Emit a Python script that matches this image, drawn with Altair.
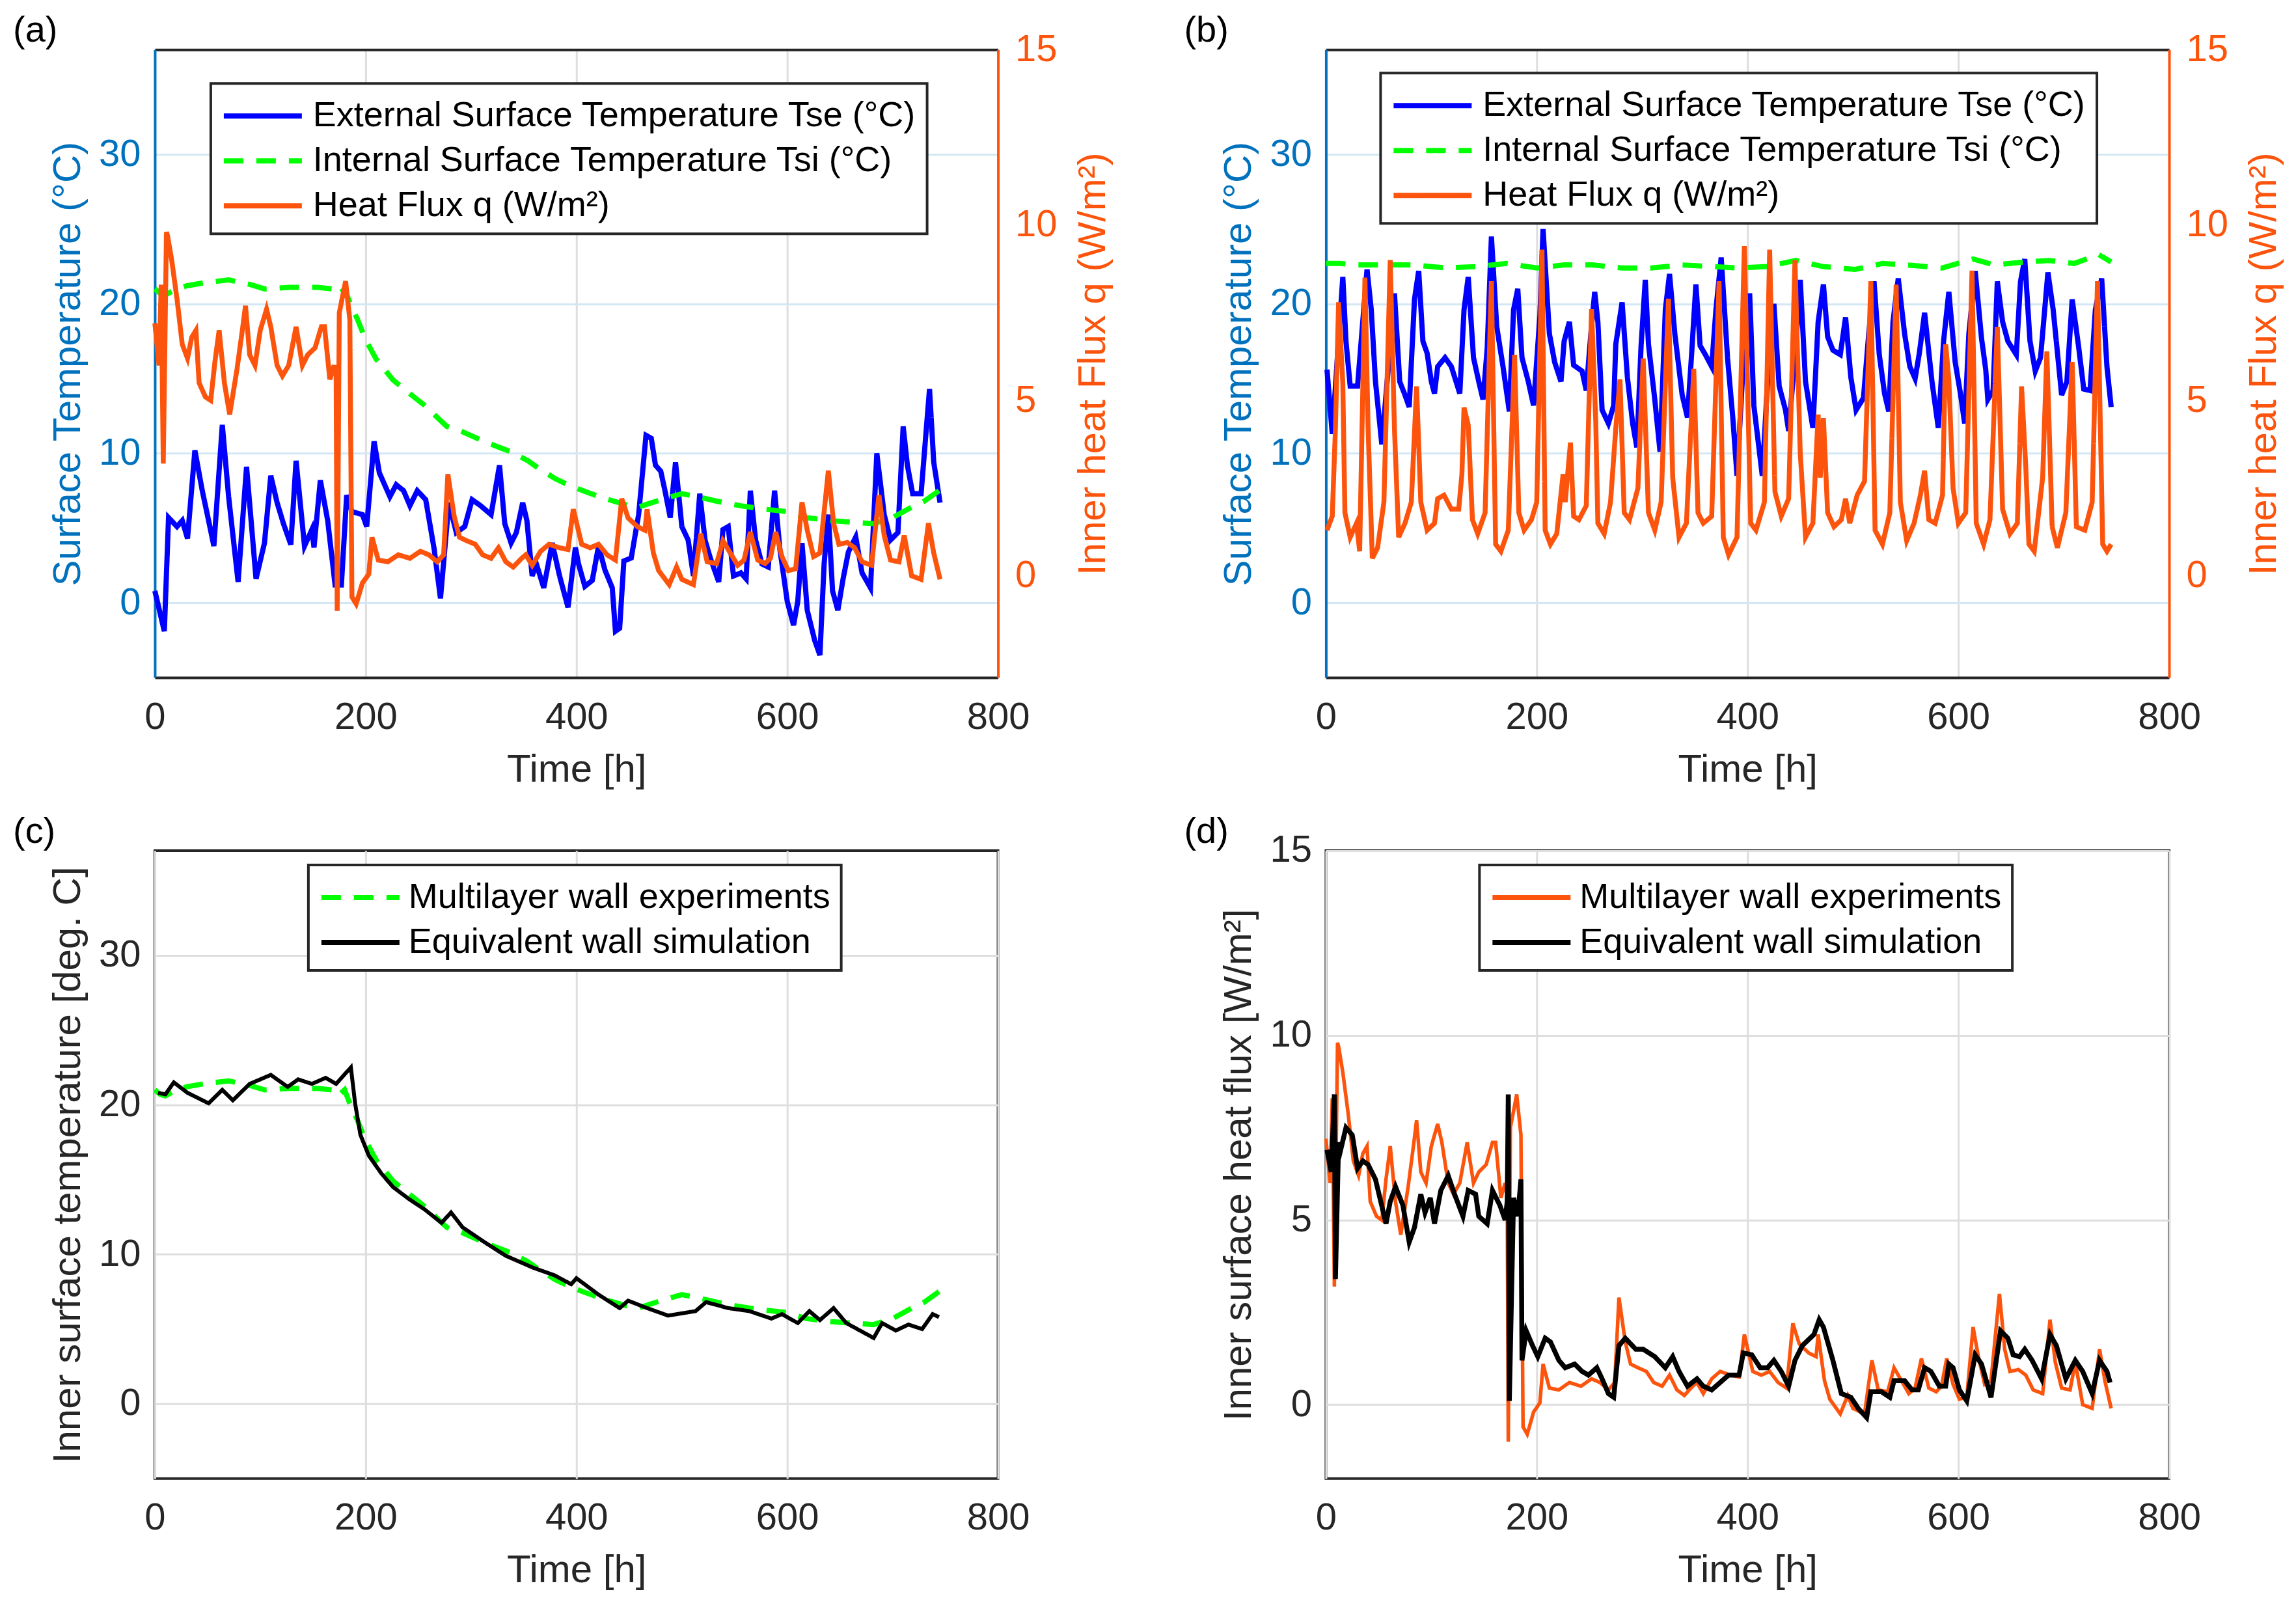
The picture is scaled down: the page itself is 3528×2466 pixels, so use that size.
import pandas as pd
import altair as alt

FONT = "Liberation Sans"
BLUE = "#0000FF"
GREEN = "#00FF00"
ORANGE = "#FC540C"
AX_BLUE = "#0072BD"
DARK = "#262626"
GRID = "#DEDEDE"
GRID_BLUE = "#D3E7F4"

# ---- (a) / (c) / (d) experiment: multilayer wall ----
tse_a_hours = [0, 9, 13, 21, 26, 31, 38, 45, 51, 56, 64, 70, 79, 87, 96, 104, 110, 116,
               122, 129, 134, 142, 149, 151, 157, 164, 171, 177, 182, 187, 197, 201, 208,
               213, 223, 229, 236, 242, 249, 257, 265, 271, 279, 286, 294, 301, 309, 319,
               327, 332, 338, 343, 349, 353, 358, 362, 369, 377, 384, 392, 399, 402, 408,
               415, 421, 427, 434, 437, 441, 445, 452, 459, 466, 471, 475, 480, 484, 489,
               494, 500, 506, 511, 517, 522, 527, 535, 539, 544, 549, 556, 561, 565, 570,
               576, 582, 588, 593, 600, 606, 610, 614, 619, 626, 631, 635, 639, 643, 648,
               653, 658, 665, 671, 679, 685, 692, 698, 705, 710, 714, 719, 727, 735, 739, 745]
tse_a_temp = [0.8, -1.9, 5.7, 5.1, 5.5, 4.3, 10.2, 7.5, 5.5, 3.8, 11.9, 7.1, 1.4, 9.1, 1.6,
              4.0, 8.5, 6.7, 5.3, 3.9, 9.5, 3.8, 4.9, 3.7, 8.2, 5.5, 1.2, 1.2, 7.2, 6.1, 5.9,
              5.1, 10.8, 8.7, 7.1, 7.9, 7.5, 6.5, 7.5, 6.9, 3.6, 0.3, 6.7, 4.7, 5.1, 6.9,
              6.5, 5.9, 9.2, 5.3, 4.0, 4.7, 6.7, 5.5, 1.8, 2.6, 1.0, 4.0, 1.8, -0.3, 3.7,
              2.6, 1.1, 1.5, 3.8, 2.2, 1.0, -1.9, -1.7, 2.8, 3.0, 5.9, 11.2, 11.0, 9.2, 8.8,
              7.5, 5.7, 9.4, 5.1, 4.2, 1.8, 7.3, 4.2, 3.0, 1.4, 4.9, 5.1, 1.8, 2.0, 1.6, 7.5,
              4.2, 2.6, 2.4, 7.5, 3.6, 0.1, -1.5, 0.1, 4.0, -0.5, -2.5, -3.5, 2.6, 5.9, 0.8,
              -0.5, 1.6, 3.4, 4.4, 2.0, 1.0, 10.0, 5.9, 4.2, 4.7, 11.8, 9.2, 7.3, 7.3, 14.3,
              9.4, 6.7]

tsi_a_hours = [0, 5, 10, 18, 30, 46, 70, 90, 104, 128, 154, 168, 174, 180, 186, 192, 200,
               210, 226, 256, 277, 290, 309, 323, 338, 354, 364, 380, 395, 410, 426, 445,
               459, 467, 485, 500, 515, 533, 555, 574, 600, 618, 641, 660, 682, 700, 718,
               730, 744]
tsi_a_temp = [21.0, 20.7, 20.6, 20.9, 21.2, 21.4, 21.6, 21.3, 21.0, 21.1, 21.1, 21.0, 20.6,
              21.0, 19.9, 19.0, 17.6, 16.3, 14.9, 13.2, 11.8, 11.5, 10.9, 10.5, 10.1, 9.5,
              9.0, 8.3, 7.8, 7.4, 7.0, 6.6, 6.4, 6.6, 7.0, 7.3, 7.1, 6.8, 6.5, 6.3, 6.1,
              5.7, 5.5, 5.4, 5.3, 5.7, 6.4, 6.8, 7.5]

q_exp_hours = [0, 4, 6, 8, 11, 12, 16, 21, 26, 31, 35, 39, 42, 48, 53, 57, 61, 66, 71, 78,
               83, 86, 90, 95, 100, 106, 110, 116, 121, 127, 134, 140, 145, 152, 158, 161,
               166, 170, 172, 173, 175, 181, 185, 187, 191, 197, 203, 206, 212, 221, 231,
               242, 252, 260, 268, 274, 278, 284, 289, 296, 304, 311, 319, 326, 333, 340,
               348, 352, 358, 366, 374, 384, 392, 397, 405, 413, 421, 429, 437, 443, 449,
               458, 465, 467, 473, 478, 488, 495, 500, 511, 518, 524, 533, 539, 546, 553,
               559, 565, 572, 579, 584, 589, 595, 601, 608, 614, 619, 625, 631, 639, 644,
               649, 657, 664, 671, 680, 687, 692, 698, 706, 711, 718, 727, 734, 739, 745]
q_exp_flux = [7.2, 6.0, 8.3, 3.2, 9.8, 9.7, 9.0, 7.9, 6.6, 6.2, 6.8, 7.0, 5.5, 5.1, 5.0,
              6.1, 7.0, 5.5, 4.6, 5.9, 7.0, 7.7, 6.3, 6.0, 7.0, 7.6, 7.1, 6.0, 5.7, 6.0, 7.1,
              6.0, 6.3, 6.5, 7.1, 7.1, 5.6, 6.0, 5.7, -1.0, 7.5, 8.4, 7.3, -0.6, -0.8, -0.2,
              0.05, 1.1, 0.45, 0.4, 0.6, 0.5, 0.7, 0.6, 0.4, 0.6, 2.9, 1.7, 1.1, 1.0, 0.9,
              0.6, 0.5, 0.8, 0.4, 0.25, 0.5, 0.6, 0.3, 0.7, 0.9, 0.8, 0.75, 1.9, 0.9, 0.8,
              0.9, 0.6, 0.45, 2.2, 1.65, 1.4, 1.3, 1.9, 0.65, 0.15, -0.25, 0.25, -0.1, -0.25,
              1.2, 0.4, 0.35, 1.0, 0.65, 0.3, 0.45, 1.25, 0.45, 0.35, 0.5, 1.25, 0.55, 0.15,
              0.2, 2.1, 1.3, 0.55, 0.65, 3.0, 1.5, 0.9, 0.95, 0.8, 0.4, 0.3, 2.3, 1.15, 0.45,
              0.4, 1.15, 0.0, -0.1, 1.5, 0.65, -0.1]

# ---- (b) experiment ----
tse_b_hours = [1, 6, 16, 19, 23, 30, 34, 39, 43, 47, 53, 60, 65, 70, 75, 79, 84, 88, 92, 96,
               100, 103, 106, 113, 119, 127, 131, 135, 140, 145, 149, 153, 157, 162, 168,
               174, 178, 182, 186, 192, 197, 203, 206, 212, 217, 223, 226, 231, 235, 243,
               247, 251, 255, 258, 262, 268, 273, 275, 281, 286, 291, 295, 299, 303, 306,
               312, 317, 322, 326, 331, 338, 343, 347, 351, 355, 360, 366, 370, 375, 381,
               386, 390, 395, 402, 406, 414, 419, 425, 430, 436, 439, 445, 450, 455, 462,
               467, 472, 476, 481, 488, 493, 498, 503, 510, 515, 520, 525, 530, 534, 538,
               543, 549, 554, 559, 563, 568, 575, 581, 586, 591, 597, 602, 606, 610, 616,
               622, 626, 628, 633, 637, 642, 647, 655, 659, 663, 668, 673, 678, 685, 690,
               698, 703, 708, 714, 719, 725, 730, 736, 741, 745]
tse_b_temp = [15.6, 11.3, 21.8, 17.5, 14.5, 14.5, 18.0, 22.3, 19.6, 14.8, 10.6, 16.4, 20.7,
              14.8, 13.9, 13.1, 20.3, 22.2, 17.5, 16.7, 14.8, 14.0, 15.8, 16.4, 15.8, 14.0,
              19.6, 21.8, 16.4, 14.8, 13.6, 17.0, 24.5, 18.5, 15.8, 12.8, 19.6, 21.0, 16.4,
              14.8, 13.2, 19.2, 25.0, 18.0, 16.1, 14.8, 17.5, 18.8, 15.9, 15.5, 14.2, 17.7,
              20.8, 18.8, 12.9, 12.0, 13.2, 17.3, 20.1, 15.1, 12.0, 10.4, 17.2, 21.6, 17.3,
              13.6, 10.1, 19.6, 22.0, 18.0, 13.9, 12.4, 16.7, 21.3, 17.2, 16.6, 15.8, 19.6,
              23.1, 16.4, 12.4, 8.5, 14.8, 20.7, 13.2, 8.5, 14.8, 20.0, 14.5, 12.9, 11.5,
              16.4, 21.6, 14.8, 11.7, 18.8, 21.3, 17.8, 16.9, 16.6, 19.1, 15.1, 12.9, 13.7,
              18.0, 21.5, 16.6, 14.0, 12.8, 18.8, 21.7, 18.0, 15.8, 15.0, 16.7, 19.4, 14.8,
              11.7, 17.5, 20.8, 16.1, 14.0, 12.0, 18.0, 22.2, 17.7, 15.6, 13.6, 14.2, 21.5,
              18.8, 17.5, 16.6, 21.5, 23.0, 17.5, 15.5, 16.4, 22.1, 19.6, 13.9, 14.8, 20.3,
              17.2, 14.3, 14.2, 19.6, 21.7, 15.8, 13.1]

tsi_b_hours = [0, 13, 30, 52, 82, 114, 145, 171, 200, 226, 253, 281, 309, 338, 366, 390,
               419, 446, 471, 502, 528, 551, 585, 614, 634, 663, 686, 710, 733, 745]
tsi_b_temp = [22.7, 22.7, 22.6, 22.6, 22.6, 22.4, 22.5, 22.7, 22.4, 22.6, 22.6, 22.4, 22.4,
              22.6, 22.5, 22.4, 22.5, 22.9, 22.5, 22.3, 22.7, 22.6, 22.4, 23.0, 22.6, 22.8,
              22.9, 22.7, 23.3, 22.8]

q_b_hours = [1, 6, 9, 12, 16, 18, 23, 29, 32, 37, 40, 44, 49, 55, 61, 65, 69, 75, 81, 86,
             90, 96, 103, 106, 112, 119, 126, 129, 131, 135, 139, 144, 151, 157, 161, 166,
             173, 179, 183, 188, 195, 200, 205, 208, 213, 219, 225, 227, 232, 235, 240, 247,
             252, 256, 258, 264, 270, 275, 279, 283, 288, 296, 301, 306, 312, 318, 325, 329,
             335, 342, 349, 353, 358, 366, 373, 377, 382, 390, 397, 403, 408, 416, 421, 426,
             432, 439, 445, 450, 455, 462, 467, 469, 472, 476, 482, 489, 493, 497, 504, 511,
             517, 521, 528, 535, 541, 545, 551, 558, 564, 568, 572, 578, 585, 588, 591, 595,
             600, 607, 613, 617, 624, 630, 637, 642, 649, 656, 660, 664, 667, 672, 680, 684,
             689, 694, 702, 708, 712, 720, 727, 732, 737, 741, 745]
q_b_flux = [1.3, 1.7, 4.2, 7.8, 5.5, 1.8, 1.1, 1.5, 0.7, 8.5, 4.2, 0.5, 0.8, 2.1, 9.0, 4.2,
            1.1, 1.5, 2.1, 5.4, 2.1, 1.3, 1.5, 2.2, 2.3, 1.9, 1.9, 2.9, 4.8, 4.3, 1.6, 1.2,
            1.8, 8.4, 0.9, 0.7, 1.3, 6.3, 1.8, 1.3, 1.6, 2.1, 9.3, 1.3, 0.9, 1.2, 2.9, 2.1,
            3.8, 1.7, 1.6, 2.0, 7.6, 4.4, 1.5, 1.2, 2.1, 4.2, 5.6, 1.8, 1.6, 2.5, 6.2, 1.8,
            1.3, 2.1, 7.9, 2.8, 1.1, 1.5, 5.9, 1.8, 1.5, 1.7, 8.4, 1.1, 0.6, 1.1, 9.4, 1.5,
            1.3, 2.1, 9.3, 2.4, 1.7, 2.2, 9.0, 3.5, 1.1, 1.5, 4.6, 2.8, 4.5, 1.8, 1.4, 1.6,
            2.2, 1.5, 2.3, 2.7, 8.4, 1.3, 0.9, 1.8, 8.3, 2.1, 1.0, 1.5, 2.3, 3.0, 1.6, 1.5,
            2.3, 6.6, 5.6, 2.5, 1.5, 1.8, 8.7, 1.5, 0.9, 1.6, 7.1, 1.9, 1.2, 1.5, 5.4, 3.1,
            0.9, 0.7, 2.8, 6.4, 1.4, 0.8, 1.8, 6.1, 1.4, 1.3, 2.1, 8.4, 0.9, 0.7, 0.9]

# ---- (c) equivalent wall simulation: inner surface temperature ----
tsim_hours = [3, 10, 18, 31, 51, 64, 74, 90, 110, 126, 136, 149, 162, 172, 186, 190, 195,
              203, 215, 226, 241, 256, 272, 281, 292, 313, 333, 359, 379, 395, 400, 421,
              441, 449, 467, 487, 513, 523, 544, 564, 585, 595, 610, 621, 631, 644, 656,
              682, 690, 703, 715, 728, 738, 744]
tsim_temp = [20.8, 20.7, 21.5, 20.8, 20.1, 21.0, 20.3, 21.4, 22.0, 21.2, 21.7, 21.4, 21.8,
             21.4, 22.5, 20.1, 18.0, 16.6, 15.4, 14.5, 13.7, 13.0, 12.1, 12.8, 11.8, 10.8,
             9.9, 9.1, 8.6, 8.0, 8.4, 7.3, 6.4, 6.9, 6.4, 5.9, 6.2, 6.8, 6.4, 6.2, 5.7, 6.0,
             5.4, 6.2, 5.6, 6.4, 5.4, 4.4, 5.4, 4.9, 5.3, 5.0, 6.0, 5.8]

# ---- (d) equivalent wall simulation: inner surface heat flux ----
qsim_hours = [1, 5, 8, 9, 12, 14, 19, 25, 30, 35, 40, 47, 52, 57, 61, 66, 73, 79, 84, 90,
              94, 99, 103, 109, 116, 122, 130, 135, 142, 145, 153, 158, 165, 170, 172, 173,
              174, 178, 182, 185, 186, 190, 196, 201, 208, 213, 221, 227, 236, 243, 249,
              257, 262, 268, 273, 278, 284, 294, 301, 312, 322, 329, 335, 343, 352, 358,
              366, 374, 382, 392, 396, 404, 412, 419, 425, 432, 439, 445, 452, 463, 468,
              472, 481, 489, 498, 505, 513, 517, 527, 535, 539, 549, 556, 562, 568, 574,
              582, 588, 591, 595, 601, 608, 616, 622, 631, 640, 647, 652, 658, 663, 670,
              679, 687, 693, 702, 711, 718, 727, 734, 741, 744]
qsim_flux = [6.9, 6.3, 8.4, 3.4, 7.1, 6.9, 7.5, 7.3, 6.4, 6.6, 6.5, 6.1, 5.5, 4.9, 5.5, 5.9,
             5.4, 4.4, 4.8, 5.7, 5.2, 5.6, 4.9, 5.8, 6.2, 5.7, 5.1, 5.8, 5.7, 5.1, 4.9, 5.8,
             5.4, 5.0, 5.5, 8.4, 0.1, 5.6, 5.1, 6.1, 1.2, 2.0, 1.6, 1.3, 1.8, 1.7, 1.2, 1.0,
             1.1, 0.9, 0.8, 1.0, 0.7, 0.3, 0.2, 1.6, 1.8, 1.5, 1.5, 1.3, 1.0, 1.3, 0.9, 0.5,
             0.7, 0.5, 0.4, 0.6, 0.8, 0.8, 1.4, 1.35, 1.0, 1.0, 1.2, 0.9, 0.5, 1.2, 1.6,
             1.9, 2.3, 2.1, 1.2, 0.3, 0.2, -0.1, -0.35, 0.35, 0.35, 0.2, 0.65, 0.65, 0.4,
             0.4, 1.0, 0.9, 0.5, 0.5, 1.1, 1.0, 0.4, 0.1, 1.35, 1.1, 0.2, 2.0, 1.8, 1.35,
             1.3, 1.5, 1.2, 0.7, 1.9, 1.6, 0.7, 1.2, 0.9, 0.3, 1.2, 0.9, 0.6]

hours_ticks = [0, 200, 400, 600, 800]
temp_ticks = [0, 10, 20, 30]
flux_ticks = [0, 5, 10, 15]

W, H = 1296, 965
TICK_SIZE, TITLE_SIZE, LEGEND_SIZE = 58, 60, 54


def frame(hours, values, name):
    return pd.DataFrame({"h": hours, "v": values, "series": name})


def make_legend(x, y, label_offset):
    # symbol drawn as a long line to the right of its anchor (path scaled by sqrt(size)/2)
    return alt.Legend(orient="none", legendX=x, legendY=y, title=None,
                      strokeColor=DARK, fillColor="white", padding=16,
                      labelFontSize=LEGEND_SIZE, labelColor="black", labelLimit=3000,
                      labelOffset=label_offset, rowPadding=8, symbolType="M-1,0H3",
                      symbolSize=3600, symbolStrokeWidth=8)


def panel_tag(tag):
    return (alt.Chart(pd.DataFrame({"t": [tag]}))
            .mark_text(align="left", baseline="middle", fontSize=56, font=FONT, color="black")
            .encode(x=alt.value(-218), y=alt.value(-29), text="t:N"))


x_scale = alt.Scale(domain=[0, 800], nice=False)
x_bottom_axis = alt.Axis(values=hours_ticks, title="Time [h]", titleColor=DARK,
                         labelColor=DARK, ticks=False, labelPadding=32, titlePadding=22,
                         labelFlush=False, format="d",
                         gridColor=GRID, gridWidth=3, domainColor=DARK, domainWidth=4)
x_top_axis = alt.Axis(orient="top", values=hours_ticks, labels=False, ticks=False,
                      grid=False, title=None, domainColor=DARK, domainWidth=4)


def dual_panel(tse, tsi, q, tag, leg_x, leg_y):
    names = ["External Surface Temperature Tse (°C)",
             "Internal Surface Temperature Tsi (°C)",
             "Heat Flux q (W/m²)"]
    leg = make_legend(leg_x, leg_y, 73)
    color = alt.Color("series:N", legend=leg,
                      scale=alt.Scale(domain=names, range=[BLUE, GREEN, ORANGE]))
    dash = alt.StrokeDash("series:N", legend=leg,
                          scale=alt.Scale(domain=names, range=[[1, 0], [30, 20], [1, 0]]))
    t_scale = alt.Scale(domain=[-5, 37], nice=False)
    left_axis = alt.Axis(values=temp_ticks, title="Surface Temperature (°C)", format="d",
                         titleColor=AX_BLUE, labelColor=AX_BLUE, domainColor=AX_BLUE,
                         domainWidth=4, ticks=False, labelPadding=22, titlePadding=16,
                         gridColor=GRID_BLUE, gridWidth=3)
    right_axis = alt.Axis(orient="right", values=flux_ticks, title="Inner heat Flux q (W/m²)",
                          format="d", titleColor=ORANGE, labelColor=ORANGE,
                          domainColor=ORANGE, domainWidth=4, ticks=False, grid=False,
                          labelPadding=26, titlePadding=26, titleAngle=270,
                          titleBaseline="top")

    blue = alt.Chart(frame(*tse, names[0])).mark_line(strokeWidth=8).encode(
        x=alt.X("h:Q", scale=x_scale, axis=x_bottom_axis),
        y=alt.Y("v:Q", scale=t_scale, axis=left_axis),
        color=color, strokeDash=dash)
    green = alt.Chart(frame(*tsi, names[1])).mark_line(strokeWidth=8).encode(
        x=alt.X("h:Q", scale=x_scale, axis=x_top_axis),
        y=alt.Y("v:Q", scale=t_scale, axis=None),
        color=color, strokeDash=dash)
    orange = alt.Chart(frame(*q, names[2])).mark_line(strokeWidth=7.5).encode(
        x=alt.X("h:Q", scale=x_scale, axis=None),
        y=alt.Y("v:Q", scale=alt.Scale(domain=[-2.9, 15], nice=False), axis=right_axis),
        color=color, strokeDash=dash)

    return (alt.layer(blue, green, orange, panel_tag(tag))
            .resolve_scale(y="independent")
            .resolve_axis(x="independent", y="independent")
            .properties(width=W, height=H,
                        view=alt.ViewBackground(stroke="transparent")))


def single_panel(exp, sim, names, exp_color, exp_dash, exp_width, sim_width, y_domain,
                 y_ticks, y_title, tag):
    leg = make_legend(236, 22, 70)
    color = alt.Color("series:N", legend=leg,
                      scale=alt.Scale(domain=names, range=[exp_color, "black"]))
    dash = alt.StrokeDash("series:N", legend=leg,
                          scale=alt.Scale(domain=names, range=[exp_dash, [1, 0]]))
    x_axis = alt.Axis(values=hours_ticks, title="Time [h]", titleColor=DARK,
                      labelColor=DARK, ticks=False, labelPadding=32, titlePadding=22,
                      labelFlush=False, format="d",
                      gridColor=GRID, gridWidth=3, domain=False)
    y_axis = alt.Axis(values=y_ticks, title=y_title, titleColor=DARK, labelColor=DARK,
                      format="d", ticks=False, labelPadding=22, titlePadding=16,
                      gridColor=GRID, gridWidth=3, domain=False)
    y_scale = alt.Scale(domain=y_domain, nice=False)

    exp_line = alt.Chart(frame(*exp, names[0])).mark_line(strokeWidth=exp_width).encode(
        x=alt.X("h:Q", scale=x_scale, axis=x_axis),
        y=alt.Y("v:Q", scale=y_scale, axis=y_axis),
        color=color, strokeDash=dash)
    sim_line = alt.Chart(frame(*sim, names[1])).mark_line(strokeWidth=sim_width).encode(
        x="h:Q", y="v:Q", color=color, strokeDash=dash)

    return (alt.layer(exp_line, sim_line, panel_tag(tag))
            .properties(width=W, height=H,
                        view=alt.ViewBackground(stroke=DARK, strokeWidth=4)))


panel_a = dual_panel((tse_a_hours, tse_a_temp), (tsi_a_hours, tsi_a_temp),
                     (q_exp_hours, q_exp_flux), "(a)", 86, 52)
panel_b = dual_panel((tse_b_hours, tse_b_temp), (tsi_b_hours, tsi_b_temp),
                     (q_b_hours, q_b_flux), "(b)", 84, 36)
panel_c = single_panel((tsi_a_hours, tsi_a_temp), (tsim_hours, tsim_temp),
                       ["Multilayer wall experiments", "Equivalent wall simulation"],
                       GREEN, [30, 20], 8, 6, [-5, 37], temp_ticks,
                       "Inner surface temperature [deg. C]", "(c)")
panel_d = single_panel((q_exp_hours, q_exp_flux), (qsim_hours, qsim_flux),
                       ["Multilayer wall experiments ", "Equivalent wall simulation "],
                       ORANGE, [1, 0], 5.5, 7.5, [-2, 15], flux_ticks,
                       "Inner surface heat flux [W/m²]", "(d)")

chart = (alt.concat(panel_a, panel_b, panel_c, panel_d, columns=2,
                    spacing={"row": 266, "column": 504}, bounds="flush")
         .resolve_scale(color="independent", strokeDash="independent")
         .resolve_legend(color="independent", strokeDash="independent")
         .properties(padding={"left": 10, "top": 10, "right": 10, "bottom": 10},
                     background="white")
         .configure(font=FONT)
         .configure_axis(labelFont=FONT, titleFont=FONT, labelFontSize=TICK_SIZE,
                         titleFontSize=TITLE_SIZE, titleFontWeight="normal")
         .configure_legend(labelFont=FONT, strokeWidth=4))

chart.save("out.html", embed_options={"renderer": "svg", "actions": False})
